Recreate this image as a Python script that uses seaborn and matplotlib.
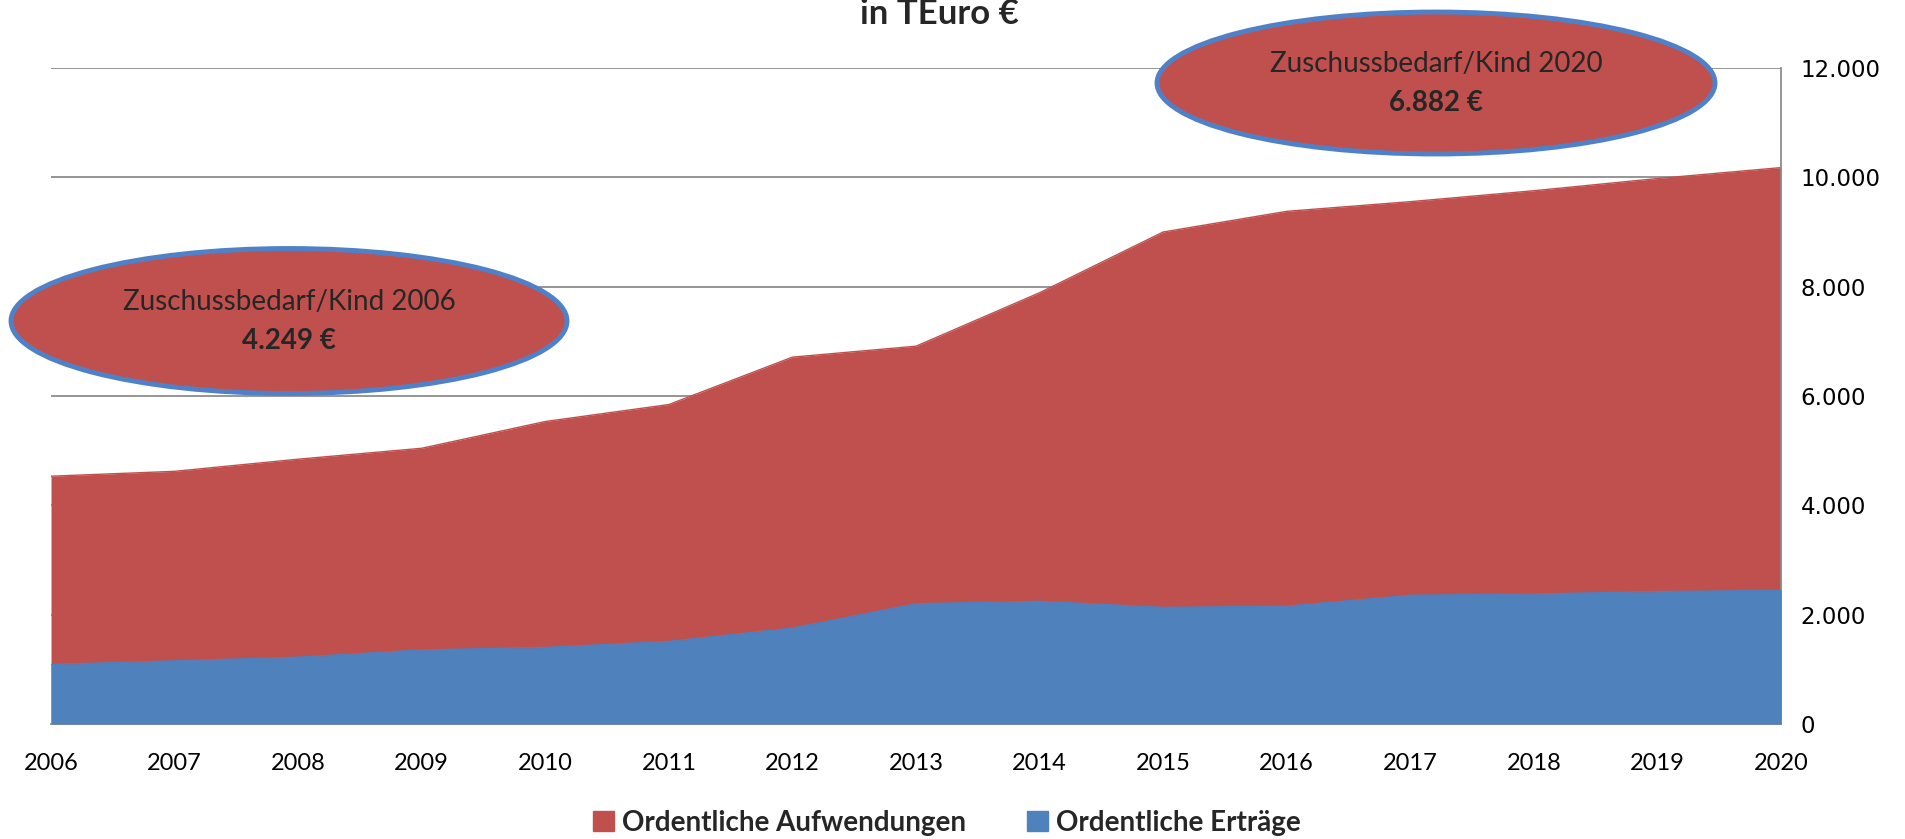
import numpy as np
import pandas as pd
import seaborn as sns
import matplotlib.pyplot as plt
from matplotlib.patches import Ellipse, Patch
from matplotlib.ticker import FuncFormatter

years = list(range(2006, 2021))
aufwendungen = [4533, 4622, 4844, 5044, 5533, 5844, 6711, 6911, 7889, 9000,
                9378, 9555, 9755, 9978, 10178]
ertraege = [1089, 1155, 1222, 1355, 1400, 1511, 1755, 2200, 2244, 2133,
            2155, 2355, 2378, 2422, 2444]
yticks = [0, 2000, 4000, 6000, 8000, 10000, 12000]

red = '#C0504D'
blue = '#4F81BD'

df = pd.DataFrame({'year': years, 'aufw': aufwendungen, 'ertr': ertraege})

sns.set_theme(style='white')
plt.rcParams['font.family'] = ['Lato', 'DejaVu Sans']

W, H = 1905, 839
fig = plt.figure(figsize=(W / 100, H / 100), dpi=100)
ax = fig.add_axes([51 / W, 1 - 724 / H, (1781 - 51) / W, (724 - 68) / H])

ax.fill_between(df['year'], 0, df['aufw'], color=red, lw=0, zorder=2)
ax.fill_between(df['year'], 0, df['ertr'], color=blue, lw=0, zorder=3)
sns.lineplot(data=df, x='year', y='aufw', color=red, lw=1, ax=ax, zorder=2)
sns.lineplot(data=df, x='year', y='ertr', color=blue, lw=1, ax=ax, zorder=3)

ax.set_xlim(2006, 2020)
ax.set_ylim(0, 12000)
ax.set_xticks(years)
ax.set_yticks(yticks)
ax.yaxis.tick_right()
ax.yaxis.set_major_formatter(FuncFormatter(lambda v, p: f'{int(v):,}'.replace(',', '.')))
ax.grid(axis='y', color='#8c8c8c', lw=1.3, zorder=0)
ax.set_axisbelow(True)
ax.set_xlabel('')
ax.set_ylabel('')
for s in ['left', 'top']:
    ax.spines[s].set_visible(False)
for s in ['right', 'bottom']:
    ax.spines[s].set_color('#8c8c8c')
    ax.spines[s].set_linewidth(1.3)
ax.tick_params(axis='x', labelsize=17, pad=21, length=0, labelcolor='black')
ax.tick_params(axis='y', labelsize=16.5, pad=14, length=0, labelcolor='black')
for t in ax.get_yticklabels():
    t.set_fontfamily('DejaVu Sans')

fig.text(0.493, 1 - 24 / H, 'in TEuro €', ha='center', va='baseline',
         fontsize=25, fontweight='bold')

# annotation ellipses
for cx, cy, w, h, label, value in [
        (289, 321, 556, 145, 'Zuschussbedarf/Kind 2006', '4.249 €'),
        (1436, 83, 558, 142, 'Zuschussbedarf/Kind 2020', '6.882 €')]:
    e = Ellipse((cx / W, 1 - cy / H), w / W, h / H, transform=fig.transFigure,
                facecolor=red, edgecolor='#4F81C9', lw=3.5, zorder=10)
    fig.patches.append(e)
    fig.text(cx / W, 1 - (cy - 19) / H, label, ha='center', va='center',
             fontsize=20, zorder=11)
    fig.text(cx / W, 1 - (cy + 20) / H, value, ha='center', va='center',
             fontsize=20, fontweight='bold', zorder=11)

handles = [Patch(color=red, label='Ordentliche Aufwendungen'),
           Patch(color=blue, label='Ordentliche Erträge')]
fig.legend(handles=handles, loc='center', bbox_to_anchor=(0.497, 1 - 823 / H),
           ncol=2, frameon=False, handlelength=0.75, handleheight=0.75,
           handletextpad=0.3, columnspacing=2.2,
           prop={'size': 20, 'weight': 'bold'})

plt.savefig('out.png', dpi=100)
